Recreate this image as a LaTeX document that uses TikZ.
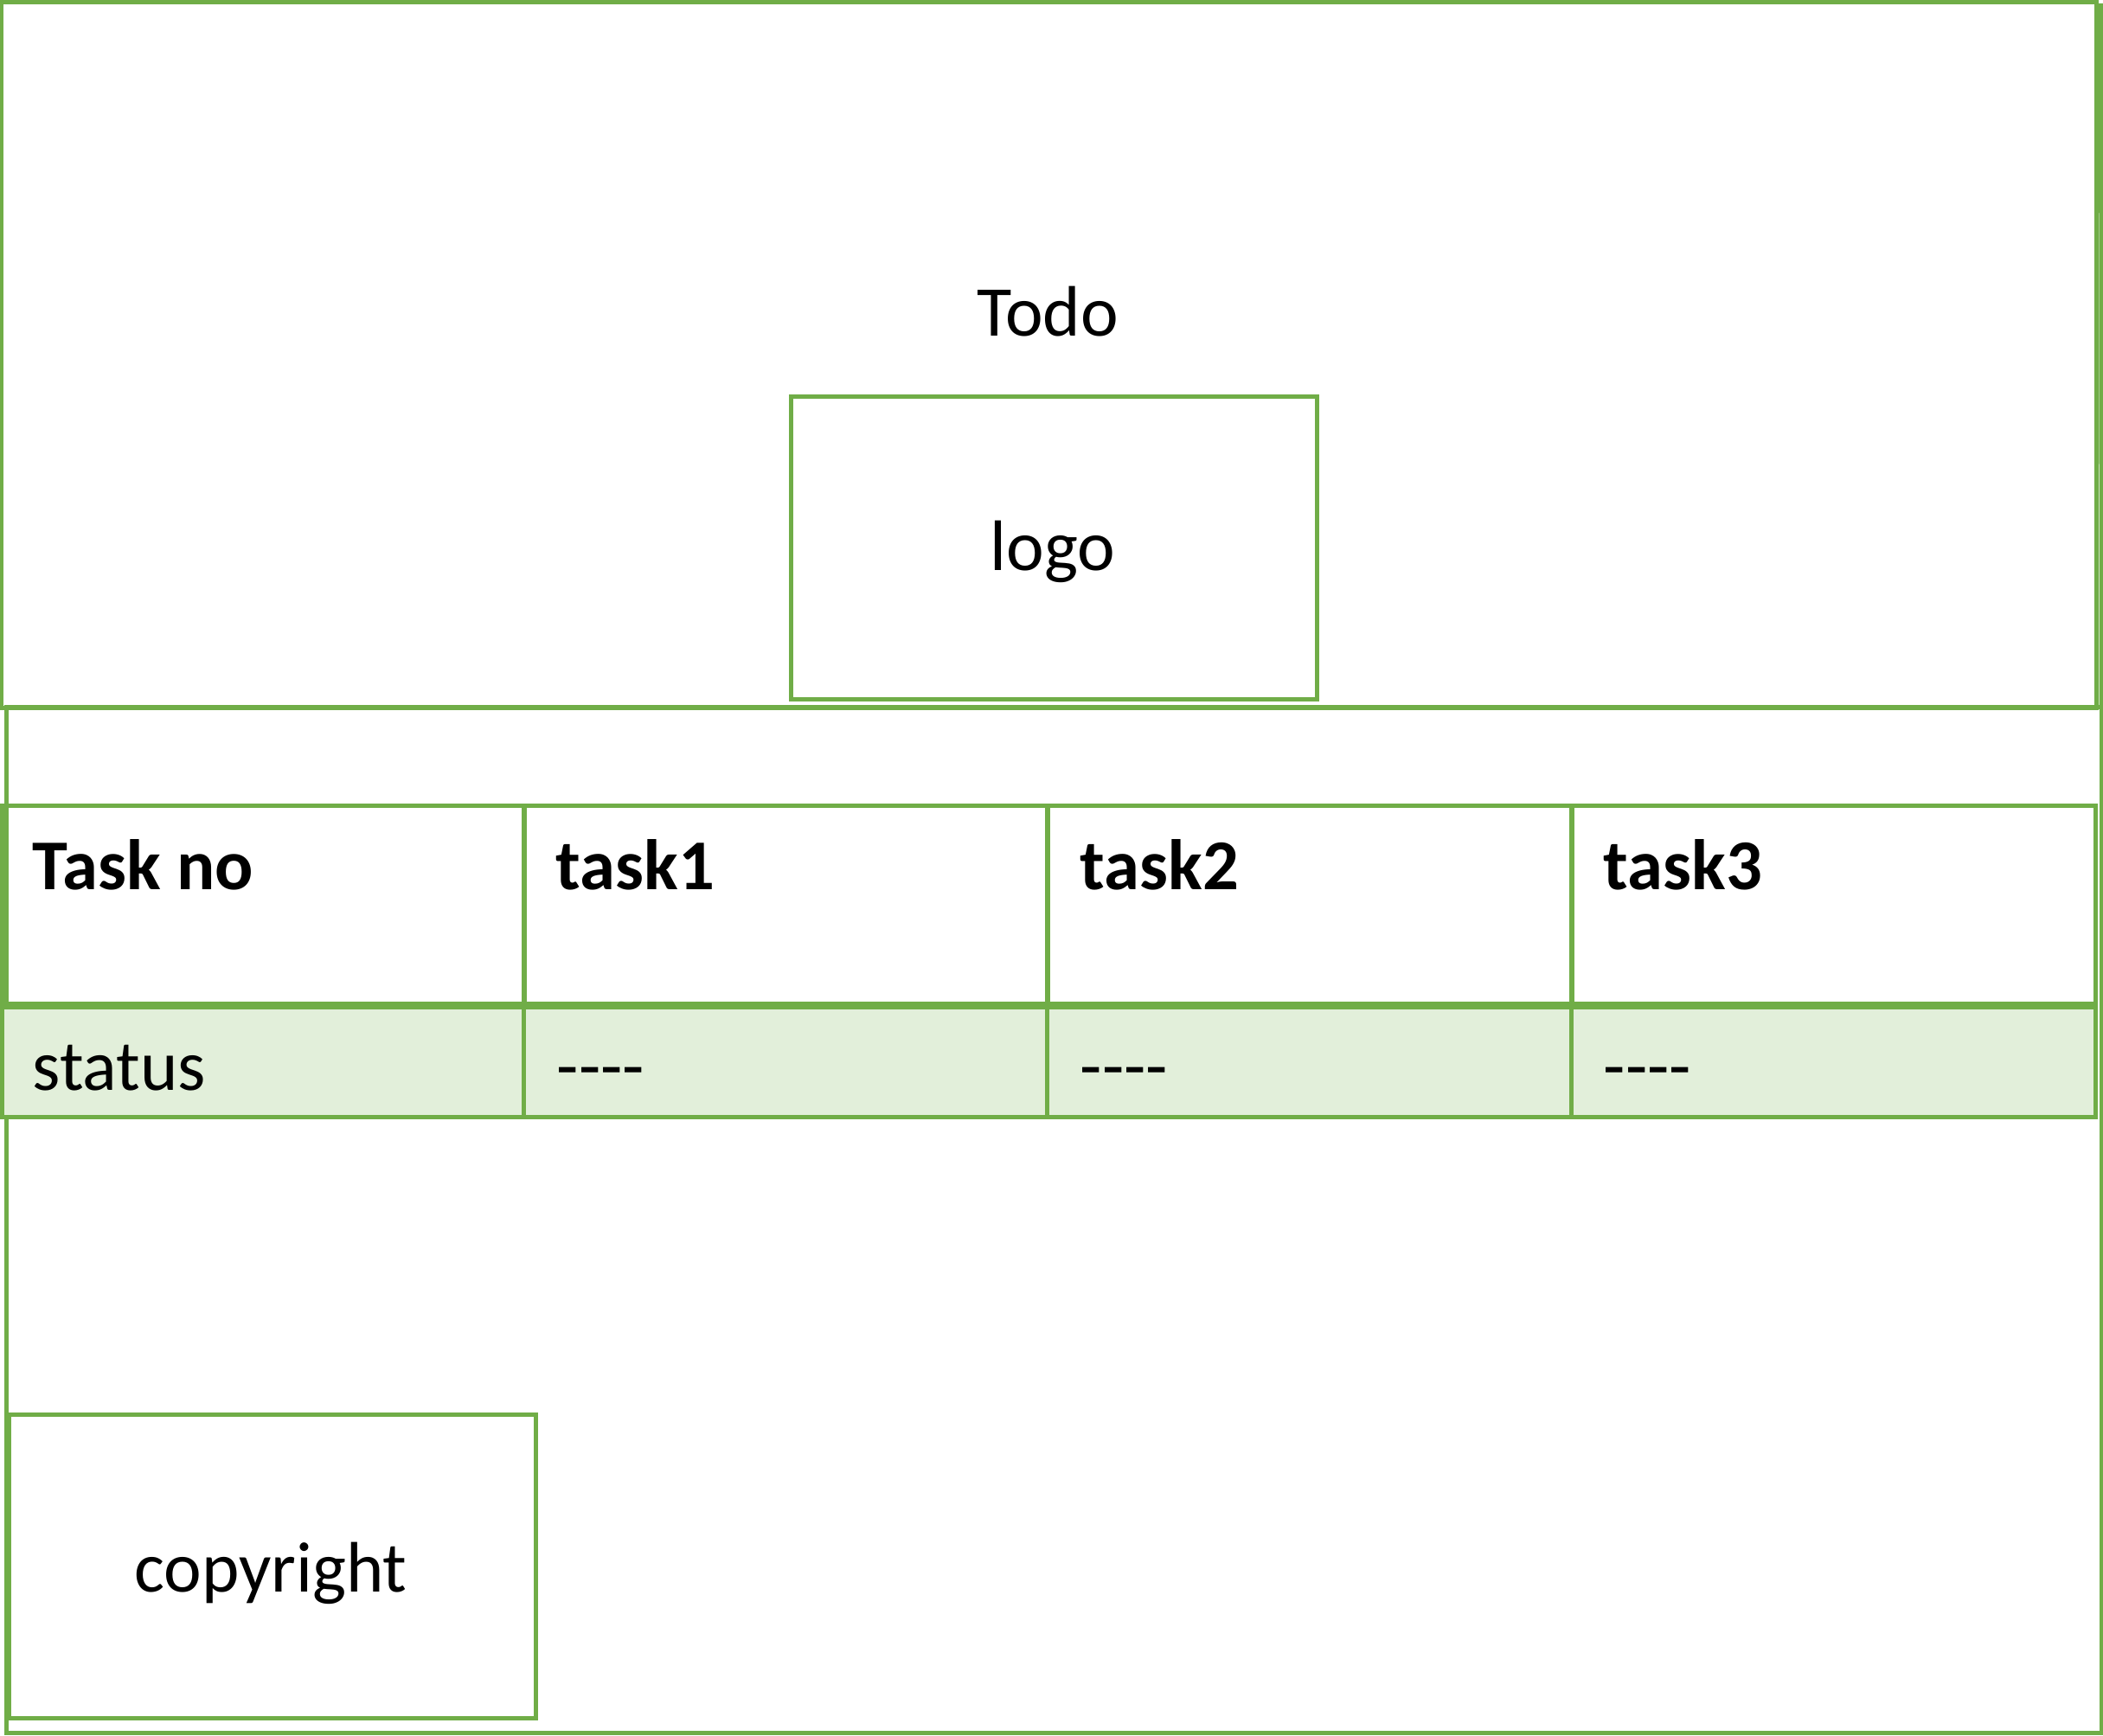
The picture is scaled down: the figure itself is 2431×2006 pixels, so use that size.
\documentclass[tikz,border=0pt]{standalone}
\usepackage{fontspec}
\setmainfont{Carlito}
\definecolor{lgreen}{HTML}{70AD47}
\definecolor{lfill}{HTML}{E2EFDA}
\begin{document}
\begin{tikzpicture}[x=0.01cm,y=-0.01cm,
  frame/.style={draw=lgreen, line width=0.05cm},
  box/.style={frame, rectangle, inner sep=0pt, outer sep=0pt},
  txt/.style={inner sep=0pt, anchor=base, font=\fontsize{23.5}{28}\selectfont},
  ltxt/.style={txt, anchor=base west},
  btxt/.style={ltxt, font=\fontsize{23.5}{28}\selectfont\bfseries},
  hcell/.style={box, minimum height=2.28cm},
  scell/.style={box, fill=lfill, minimum height=1.26cm}]
\useasboundingbox (0,0) rectangle (2431,2006);
% body frame
\node[box, minimum width=24.20cm, minimum height=11.855cm] (body) at (1218.5,1410.75) {};
\coordinate (rtop) at (2428.5,4);
\draw[frame] (rtop) -- (body.north east);
% header
\node[box, minimum width=24.205cm, minimum height=8.155cm] (header) at (1212.75,410.25) {};
\node[box, minimum width=6.07cm, minimum height=3.49cm] (logo) at (1218.5,633.5) {};
\node[txt] (todot) at (1211,388) {Todo};
\node[txt] (logot) at (1217,659) {logo};
% table header row
\node[hcell, minimum width=6.03cm] (h1) at (304.5,1046) {};
\node[hcell, minimum width=6.05cm] (h2) at (908.5,1046) {};
\node[hcell, minimum width=6.06cm] (h3) at (1514,1046) {};
\node[hcell, minimum width=6.05cm] (h4) at (2119.5,1046) {};
% status row
\node[scell, minimum width=6.03cm] (s1) at (304.5,1228) {};
\node[scell, minimum width=6.05cm] (s2) at (908.5,1228) {};
\node[scell, minimum width=6.06cm] (s3) at (1514,1228) {};
\node[scell, minimum width=6.05cm] (s4) at (2119.5,1228) {};
\node[btxt] (th1) at (37,1028) {Task no};
\node[btxt] (th2) at (642,1028) {task1};
\node[btxt] (th3) at (1248,1028) {task2};
\node[btxt] (th4) at (1853,1028) {task3};
\node[ltxt] (ts1) at (37,1260) {status};
\node[ltxt] (ts2) at (643,1260) {{-}{-}{-}{-}};
\node[ltxt] (ts3) at (1248,1260) {{-}{-}{-}{-}};
\node[ltxt] (ts4) at (1853,1260) {{-}{-}{-}{-}};
% footer
\node[box, minimum width=6.08cm, minimum height=3.50cm] (copy) at (315,1811) {};
\node[txt] (copyt) at (313,1840) {copyright};
\end{tikzpicture}
\end{document}
